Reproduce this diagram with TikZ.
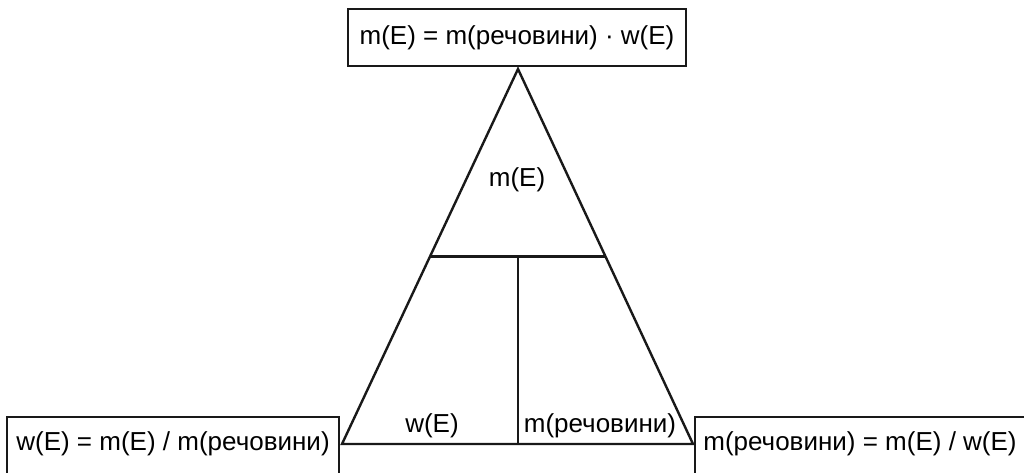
\documentclass[tikz,border=0pt]{standalone}
\usepackage{fontspec}
\setmainfont{Liberation Sans}
\usetikzlibrary{calc}
\tikzset{
  edge/.style={draw=black!90,line width=1.2pt},
  formula/.style={font=\fontsize{13}{15}\selectfont,inner sep=1pt},
  topbox/.style={formula,edge,minimum width=169pt,minimum height=28.5pt},
}
\begin{document}
\begin{tikzpicture}[x=0.5pt,y=0.5pt]
\useasboundingbox (0,0) rectangle (1024,472);
\clip (0,0) rectangle (1024,472);
% triangle corners
\coordinate (apex) at (518,403);
\coordinate (bl) at (342,28);
\coordinate (br) at (693,28);
\coordinate (ml) at ($(apex)!0.5!(bl)$);
\coordinate (mr) at ($(apex)!0.5!(br)$);
\coordinate (mm) at ($(ml)!0.5!(mr)$);
\coordinate (bm) at (bl -| mm);
\draw[edge,line join=miter] (apex) -- (bl) -- (br) -- cycle;
\draw[edge] (ml) -- (mr);
\draw[edge] (mm) -- (bm);
% texts in the triangle
\node[formula] (mass) at (517,292) {m(E)};
\node[formula] (frac) at (432,46) {w(E)};
\node[formula] (subst) at (600,46) {m(речовини)};
% formulas
\node[topbox] (top) at (517,434.5) {m(E) = m(речовини) · w(E)};
\draw[edge] (7,-20) rectangle (339,55);
\node[formula] (left) at (173,28) {w(E) = m(E) / m(речовини)};
\draw[edge] (695,-20) rectangle (1040,55);
\node[formula] (right) at (860,28) {m(речовини) = m(E) / w(E)};
\end{tikzpicture}
\end{document}
